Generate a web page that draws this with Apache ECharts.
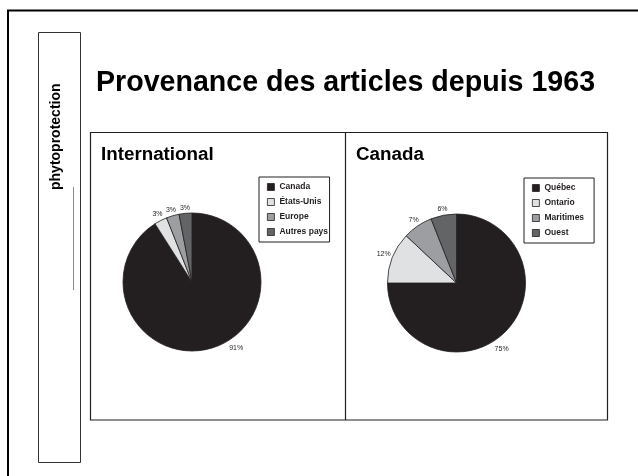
<!DOCTYPE html>
<html>
<head>
<meta charset="utf-8">
<title>Provenance des articles depuis 1963</title>
<script src="https://cdn.jsdelivr.net/npm/echarts@6/dist/echarts.min.js"></script>
<style>
html, body {margin: 0; padding: 0; background: #fff;}
#chart {width: 638px; height: 476px;}
</style>
</head>
<body>
<div id="chart"></div>
<script>
/* donnees (en %) */
var intlNames = ["Canada", "États-Unis", "Europe", "Autres pays"];
var intlValues = [91, 3, 3, 3];
var canNames = ["Québec", "Ontario", "Maritimes", "Ouest"];
var canValues = [75, 12, 7, 6];
var sliceColors = ["#231f20", "#e0e1e2", "#9c9ea1", "#636466"];

var ink = "#231f20", font = '"Liberation Sans", Arial, sans-serif';

function buildData(names, values) {
    for (var out = [], i = 0; i < names.length; i++) out.push({name: names[i], value: values[i], itemStyle: {color: sliceColors[i]}});
    return out
}

function pieSeries(names, values, center, shift) {
    return {
        type: "pie",
        center: center,
        radius: 69,
        startAngle: 90,
        clockwise: true,
        avoidLabelOverlap: false,
        silent: true,
        itemStyle: {borderColor: ink, borderWidth: 0.8},
        label: {show: true, position: "outside", formatter: "{c}%", fontSize: 7, fontFamily: font, color: ink},
        // ligne invisible : on s'en sert seulement pour connaitre la direction de la part
        labelLine: {show: true, length: 6, length2: 0, lineStyle: {opacity: 0}},
        labelLayout: function (p) {
            var pts = p.labelLinePoints;
            if (!pts) return;
            var vx = pts[1][0] - pts[0][0], vy = pts[1][1] - pts[0][1], len = Math.sqrt(vx * vx + vy * vy) || 1;
            vx /= len, vy /= len;
            var ext = p.labelRect.width / 2 * Math.abs(vx) + p.labelRect.height / 2 * Math.abs(vy), d = 1.5 + ext;
            var x = pts[0][0] + vx * d, y = pts[0][1] + vy * d;
            // le libelle de la grande part est place plus pres de la verticale dans l'original
            0 === p.dataIndex && (x += shift[0], y += shift[1]);
            return {x: x, y: y, align: "center", verticalAlign: "middle"}
        },
        data: buildData(names, values)
    }
}

function legendBox(names, left, top, padRight) {
    return {
        data: names,
        orient: "vertical",
        left: left,
        top: top,
        icon: "rect",
        itemWidth: 7,
        itemHeight: 7,
        itemGap: 5,
        padding: [5, padRight, 5, 8],
        borderColor: ink,
        borderWidth: 1,
        selectedMode: false,
        itemStyle: {borderColor: ink, borderWidth: 0.8},
        textStyle: {fontSize: 8.5, fontWeight: "bold", fontFamily: font, color: ink, lineHeight: 10}
    }
}

var myChart = echarts.init(document.getElementById("chart"), null, {renderer: "canvas"});
myChart.setOption({
    animation: false,
    backgroundColor: "#fff",
    legend: [legendBox(intlNames, 259, 177, 1.5), legendBox(canNames, 524, 178, 10)],
    series: [
        pieSeries(intlNames, intlValues, [192, 282], [23, -7]),
        pieSeries(canNames, canValues, [456.5, 283], [-10, 11])
    ],
    graphic: [
        // cadre exterieur
        {type: "polyline", silent: true, shape: {points: [[8, 476], [8, 10.5], [638, 10.5]]}, style: {stroke: "#000", lineWidth: 2, fill: null}},
        // bandeau lateral
        {type: "rect", silent: true, shape: {x: 38.5, y: 32.5, width: 42, height: 430}, style: {stroke: "#333", lineWidth: 1, fill: null}},
        {type: "text", silent: true, x: 56.5, y: 190, rotation: Math.PI / 2, style: {text: "phytoprotection", font: "bold 14px " + font, fill: "#000", align: "left", verticalAlign: "middle"}},
        {type: "line", silent: true, shape: {x1: 73.5, y1: 187, x2: 73.5, y2: 290}, style: {stroke: "#8a8a8a", lineWidth: 1}},
        // titre
        {type: "text", silent: true, x: 96, y: 83, style: {text: "Provenance des articles depuis 1963", font: "bold 28.6px " + font, fill: "#000", align: "left", verticalAlign: "middle"}},
        // panneaux
        {type: "rect", silent: true, shape: {x: 90.5, y: 132.5, width: 517, height: 287.5}, style: {stroke: ink, lineWidth: 1.2, fill: null}},
        {type: "line", silent: true, shape: {x1: 345.5, y1: 132.5, x2: 345.5, y2: 420}, style: {stroke: ink, lineWidth: 1.2}},
        {type: "text", silent: true, x: 101, y: 154.5, style: {text: "International", font: "bold 18.8px " + font, fill: "#000", align: "left", verticalAlign: "middle"}},
        {type: "text", silent: true, x: 356, y: 154.5, style: {text: "Canada", font: "bold 18.8px " + font, fill: "#000", align: "left", verticalAlign: "middle"}}
    ]
});
</script>
</body>
</html>
